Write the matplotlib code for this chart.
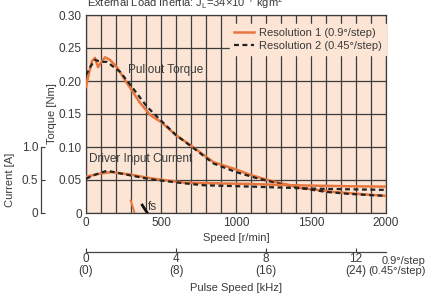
import matplotlib
matplotlib.use('Agg')
import matplotlib.pyplot as plt
import numpy as np

plt.rcParams['font.family'] = ['Liberation Sans', 'DejaVu Sans']
plt.rcParams['mathtext.fontset'] = 'custom'
plt.rcParams['mathtext.rm'] = 'Liberation Sans'

# pullout torque [Nm]
speed_r1 = [0, 20, 40, 60, 80, 100, 127, 160, 205, 270, 360, 430, 500, 600, 713, 850,
            1000, 1093, 1227, 1360, 1430, 1647, 1867, 2000]
torque_r1 = [0.191, 0.212, 0.230, 0.235, 0.221, 0.228, 0.236, 0.232, 0.221, 0.198, 0.167,
             0.148, 0.138, 0.118, 0.100, 0.077, 0.066, 0.058, 0.049, 0.042, 0.038, 0.032,
             0.028, 0.026]
speed_r2 = [0, 30, 60, 100, 140, 180, 227, 313, 407, 500, 600, 713, 850, 1000, 1150, 1300,
            1450, 1600, 1750, 1900, 2000]
torque_r2 = [0.209, 0.222, 0.232, 0.229, 0.229, 0.222, 0.214, 0.189, 0.161, 0.140, 0.118,
             0.099, 0.075, 0.062, 0.052, 0.044, 0.037, 0.032, 0.029, 0.027, 0.026]

# driver input current [A]
cur_speed_r1 = [0, 100, 175, 300, 433, 653, 850, 1100, 1300, 1500, 1750, 2000]
current_r1 = [0.55, 0.60, 0.62, 0.58, 0.525, 0.46, 0.45, 0.44, 0.425, 0.415, 0.405, 0.40]
cur_speed_r2 = [0, 60, 140, 250, 433, 653, 787, 1100, 1300, 1500, 1733, 2000]
current_r2 = [0.52, 0.58, 0.64, 0.59, 0.51, 0.45, 0.42, 0.40, 0.385, 0.37, 0.36, 0.35]

# self-start (fs) segments
fs_speed_r1 = [298, 324]
fs_torque_r1 = [0.019, 0.0]
fs_speed_r2 = [375, 409]
fs_torque_r2 = [0.012, 0.0]

torque_ticks = [0, 0.05, 0.10, 0.15, 0.20, 0.25, 0.30]
torque_labels = ['0', '0.05', '0.10', '0.15', '0.20', '0.25', '0.30']
speed_ticks = [0, 500, 1000, 1500, 2000]
current_ticks = [0, 0.5, 1.0]
current_labels = ['0', '0.5', '1.0']
pulse_ticks = [0, 4, 8, 12]
pulse_labels = ['0\n(0)', '4\n(8)', '8\n(16)', '12\n(24)']

orange = '#e8773f'
bg = '#fce5d5'
gridc = '#3c3c3c'
txt = '#3a3a3a'
fs = 8

fig = plt.figure(figsize=(4.26, 3.07), dpi=100)
W, H = 426, 307
ax = fig.add_axes([86 / W, 1 - 213 / H, 300 / W, 198 / H])
ax.set_facecolor(bg)

ax.set_xlim(0, 2000)
ax.set_ylim(0, 0.30)
ax.set_xticks(np.arange(0, 2001, 100), minor=True)
ax.set_xticks(speed_ticks)
ax.set_yticks(torque_ticks)
ax.set_yticklabels(torque_labels)
ax.grid(True, which='both', axis='x', color=gridc, lw=0.9)
ax.grid(True, which='major', axis='y', color=gridc, lw=0.9)
ax.set_axisbelow(True)
ax.tick_params(which='both', length=0, labelsize=fs + 0.5, colors=txt, pad=3)
for s in ax.spines.values():
    s.set_color(gridc)
    s.set_linewidth(0.9)

ax.plot(speed_r1, torque_r1, color=orange, lw=1.8, label='Resolution 1 (0.9°/step)', zorder=3)
ax.plot(speed_r2, torque_r2, color='#222222', lw=1.6, ls=(0, (2.2, 1.6)),
        label='Resolution 2 (0.45°/step)', zorder=4)
ax.plot(fs_speed_r1, fs_torque_r1, color=orange, lw=1.4, zorder=3)
ax.plot(fs_speed_r2, fs_torque_r2, color='#111111', lw=2.0, zorder=4)

ax.set_xlabel('Speed [r/min]', fontsize=fs, color=txt, labelpad=3)
ax.set_ylabel('Torque [Nm]', fontsize=fs, color=txt)
ax.yaxis.set_label_coords(-0.097, 0.5)

ax.text(280, 0.217, 'Pullout Torque', fontsize=fs + 0.5, color=txt, va='center', zorder=5)
ax.text(20, 0.082, 'Driver Input Current', fontsize=fs + 0.5, color=txt, va='center', zorder=5)
ax.text(415, 0.0095, 'fs', fontsize=fs + 0.5, color=txt, va='center', zorder=5)

leg = ax.legend(loc='upper right', bbox_to_anchor=(1.0, 0.955), fontsize=fs, frameon=True,
                fancybox=False, handlelength=1.8, handletextpad=0.5, borderpad=0.35,
                labelspacing=0.3, borderaxespad=0.0)
leg.get_frame().set_facecolor(bg)
leg.get_frame().set_edgecolor(bg)
leg.get_frame().set_alpha(1)
for t in leg.get_texts():
    t.set_color(txt)

# current on a twin axis: 1 A spans 0.1 Nm
ax2 = ax.twinx()
ax2.set_ylim(0, 3.0)
ax2.plot(cur_speed_r1, current_r1, color=orange, lw=1.8, zorder=3)
ax2.plot(cur_speed_r2, current_r2, color='#222222', lw=1.6, ls=(0, (2.2, 1.6)), zorder=4)
ax2.yaxis.set_ticks_position('left')
ax2.yaxis.set_label_position('left')
for k in ['top', 'right', 'bottom']:
    ax2.spines[k].set_visible(False)
ax2.spines['left'].set_position(('axes', -0.15))
ax2.spines['left'].set_bounds(0, 1.0)
ax2.spines['left'].set_color('#444444')
ax2.spines['left'].set_linewidth(0.9)
ax2.set_yticks(current_ticks)
ax2.set_yticklabels(current_labels)
ax2.tick_params(axis='y', direction='in', length=3, labelsize=fs + 0.5, colors=txt, pad=2)
ax2.set_ylabel('Current [A]', fontsize=fs, color=txt)
ax2.yaxis.set_label_coords(-0.237, 0.167)

# pulse speed axis
sec = ax.secondary_xaxis(-0.197, functions=(lambda r: r / 150.0, lambda k: k * 150.0))
sec.set_xticks(pulse_ticks)
sec.set_xticklabels(pulse_labels, linespacing=0.95)
sec.tick_params(axis='x', direction='in', length=3, labelsize=fs + 0.5, colors=txt, pad=1)
sec.spines['bottom'].set_color('#444444')
sec.spines['bottom'].set_linewidth(0.9)
sec.set_xlabel('Pulse Speed [kHz]', fontsize=fs, color=txt, labelpad=4)
fig.text(425.5 / W, 1 - 256 / H, '0.9°/step\n(0.45°/step)', fontsize=fs, color=txt,
         ha='right', va='top', linespacing=0.98, multialignment='right')

fig.text(87 / W, 1 - 7 / H, r'External Load Inertia: J$_\mathregular{L}$=34×10$^\mathregular{-7}$ kgm$^\mathregular{2}$',
         fontsize=fs, color=txt, ha='left', va='baseline')

plt.savefig('out.png', dpi=100)
